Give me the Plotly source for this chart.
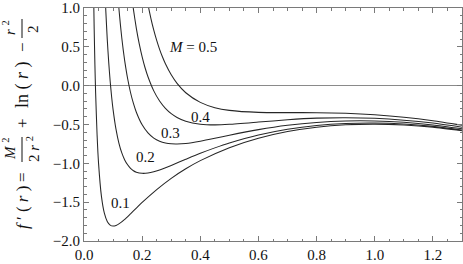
import plotly.graph_objects as go

# r values and f(r) for each M
r_m01 = [0.0325, 0.035, 0.0375, 0.04, 0.045, 0.05, 0.06, 0.07, 0.08, 0.09, 0.10, 0.11, 0.12, 0.14, 0.16, 0.18, 0.20, 0.25, 0.30, 0.35, 0.40, 0.50, 0.60, 0.70, 0.80, 0.90, 1.00, 1.10, 1.20, 1.30]
f_m01 = [1.307, 0.729, 0.271, -0.095, -0.633, -0.997, -1.426, -1.642, -1.748, -1.795, -1.808, -1.800, -1.780, -1.721, -1.650, -1.577, -1.504, -1.338, -1.193, -1.070, -0.965, -0.798, -0.677, -0.591, -0.535, -0.504, -0.495, -0.506, -0.534, -0.580]

r_m02 = [0.07, 0.075, 0.08, 0.085, 0.09, 0.095, 0.10, 0.11, 0.12, 0.13, 0.14, 0.15, 0.16, 0.17, 0.18, 0.20, 0.22, 0.24, 0.26, 0.30, 0.35, 0.40, 0.45, 0.50, 0.60, 0.70, 0.80, 0.90, 1.00, 1.10, 1.20, 1.30]
f_m02 = [1.420, 0.963, 0.596, 0.300, 0.057, -0.142, -0.308, -0.560, -0.739, -0.866, -0.956, -1.019, -1.064, -1.095, -1.114, -1.129, -1.125, -1.109, -1.085, -1.027, -0.948, -0.871, -0.801, -0.738, -0.635, -0.561, -0.512, -0.486, -0.480, -0.493, -0.524, -0.571]

r_m03 = [0.11, 0.12, 0.125, 0.13, 0.135, 0.14, 0.15, 0.16, 0.17, 0.18, 0.20, 0.22, 0.24, 0.26, 0.28, 0.30, 0.32, 0.35, 0.40, 0.45, 0.50, 0.60, 0.70, 0.80, 0.90, 1.00, 1.10, 1.20, 1.30]
f_m03 = [1.506, 0.997, 0.793, 0.614, 0.458, 0.320, 0.092, -0.088, -0.229, -0.342, -0.504, -0.608, -0.675, -0.715, -0.738, -0.749, -0.751, -0.744, -0.715, -0.678, -0.638, -0.566, -0.510, -0.473, -0.455, -0.455, -0.472, -0.506, -0.556]

r_m04 = [0.15, 0.16, 0.17, 0.18, 0.19, 0.20, 0.21, 0.22, 0.24, 0.26, 0.28, 0.30, 0.32, 0.35, 0.40, 0.45, 0.50, 0.60, 0.70, 0.80, 0.90, 1.00, 1.10, 1.20, 1.30]
f_m04 = [1.647, 1.280, 0.982, 0.738, 0.537, 0.371, 0.231, 0.115, -0.067, -0.198, -0.292, -0.360, -0.409, -0.458, -0.496, -0.505, -0.498, -0.469, -0.439, -0.418, -0.412, -0.420, -0.444, -0.482, -0.535]

r_m05 = [0.21, 0.22, 0.23, 0.24, 0.25, 0.26, 0.27, 0.28, 0.30, 0.32, 0.35, 0.40, 0.45, 0.50, 0.60, 0.70, 0.80, 0.90, 1.00, 1.10, 1.20, 1.30]
f_m05 = [1.252, 1.045, 0.867, 0.714, 0.582, 0.468, 0.369, 0.282, 0.140, 0.030, -0.091, -0.215, -0.283, -0.318, -0.344, -0.347, -0.348, -0.356, -0.375, -0.406, -0.451, -0.509]

series = [(r_m01, f_m01), (r_m02, f_m02), (r_m03, f_m03), (r_m04, f_m04), (r_m05, f_m05)]

curve_labels = ["0.1", "0.2", "0.3", "0.4", "<i>M</i> = 0.5"]
label_x = [0.127, 0.213, 0.299, 0.399, 0.375]
label_y = [-1.51, -0.918, -0.609, -0.403, 0.498]

x_tickvals = [0.0, 0.2, 0.4, 0.6, 0.8, 1.0, 1.2]
y_tickvals = [-2.0, -1.5, -1.0, -0.5, 0.0, 0.5, 1.0]

W, H = 463, 264
L, R, T, B = 84, 1, 8, 23
PW, PH = W - L - R, H - T - B

def px(x):
    return (x - L) / PW

def py(y):
    return (H - B - y) / PH

FONT = "Liberation Serif"
frame = "#7a7a7a"

fig = go.Figure()
for r, f in series:
    fig.add_trace(go.Scatter(x=r, y=f, mode="lines",
                             line=dict(color="#262626", width=1.05, shape="spline", smoothing=0.6),
                             hoverinfo="skip", showlegend=False))

for t, x, y in zip(curve_labels, label_x, label_y):
    fig.add_annotation(x=x, y=y, text=t, showarrow=False,
                       font=dict(family=FONT, size=15, color="#111"),
                       xanchor="center", yanchor="middle")

# y-axis title built from rotated pieces
title_pieces = [
    ("<i>f</i> ′ ( <i>r</i> )", 22, 208, 17),
    ("=", 22, 177, 17),
    ("<i>M</i> <sup>2</sup>", 9, 149, 15),
    ("2 <i>r</i> <sup>2</sup>", 33, 149, 15),
    ("+", 22, 123, 17),
    ("ln ( <i>r</i> )", 22, 85, 18),
    ("−", 22, 47, 17),
    ("<i>r</i> <sup>2</sup>", 9, 28, 15),
    ("2", 33, 29, 15),
]
for t, x, y, s in title_pieces:
    fig.add_annotation(xref="paper", yref="paper", x=px(x), y=py(y), text=t,
                       showarrow=False, textangle=-90,
                       font=dict(family=FONT, size=s, color="#111"),
                       xanchor="center", yanchor="middle")
for (x, y0, y1) in [(22, 137, 162), (22, 19, 38)]:
    fig.add_shape(type="line", xref="paper", yref="paper",
                  x0=px(x), x1=px(x), y0=py(y0), y1=py(y1),
                  line=dict(color="#111", width=1))

axis_common = dict(showline=True, linecolor=frame, linewidth=1, mirror="allticks",
                   ticks="inside", ticklen=5, tickcolor=frame, tickwidth=1,
                   showgrid=False, tickfont=dict(family=FONT, size=15, color="#111"),
                   tickformat=".1f", automargin=False)

fig.update_xaxes(range=[0, 1.3], tickvals=x_tickvals, zeroline=False,
                 minor=dict(dtick=0.05, tick0=0, ticks="inside", ticklen=2.5, tickcolor=frame, showgrid=False),
                 **axis_common)
fig.update_yaxes(range=[-2, 1], tickvals=y_tickvals, zeroline=True, zerolinecolor="#8a8a8a", zerolinewidth=1,
                 minor=dict(dtick=0.1, tick0=0, ticks="inside", ticklen=2.5, tickcolor=frame, showgrid=False),
                 **axis_common)

fig.update_layout(width=W, height=H, margin=dict(l=L, r=R, t=T, b=B),
                  font=dict(family=FONT),
                  paper_bgcolor="white", plot_bgcolor="white")

fig.write_html("out.html", config={"displayModeBar": False},
               post_script="document.body.style.margin='0';document.body.style.padding='0';")
